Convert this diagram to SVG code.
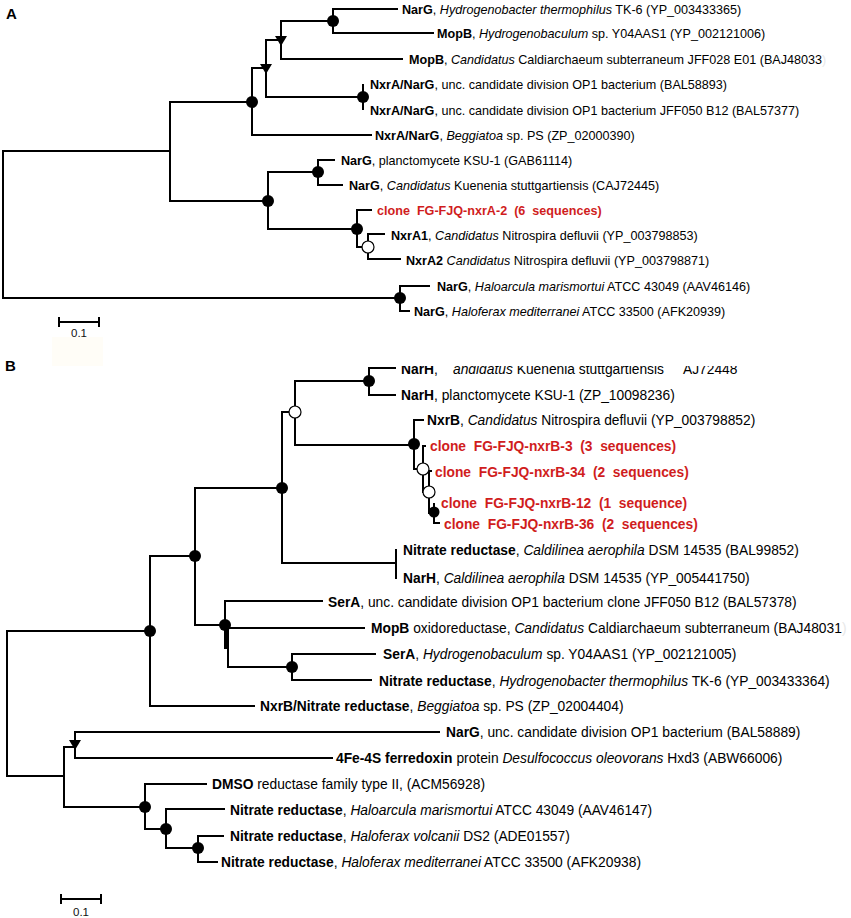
<svg xmlns="http://www.w3.org/2000/svg" width="851" height="918" viewBox="0 0 851 918">
<style>
text{font-family:"Liberation Sans",Arial,sans-serif;fill:#000}
.a{font-size:12.6px}
.bb{font-size:13.8px}
.b{font-weight:bold}
.i{font-style:italic}
.red{fill:#d01d1d;font-weight:bold}
.ghost{fill:#e8e8e8}
.br{fill:none;stroke:#000;stroke-width:2}
.dot{fill:#000}
.open{fill:#fff;stroke:#000;stroke-width:1.2}
.tri{fill:#000}
.title{font-size:15px;font-weight:bold}
.sc{font-size:11.5px;text-anchor:middle;fill:#111}
</style>
<rect width="851" height="918" fill="#fff"/>
<rect x="52" y="337" width="51" height="29" fill="#fffdf7"/>
<text class="title" x="6" y="19">A</text>
<text class="title" x="5" y="371">B</text>

<g id="connectors">
<path class="br" d="M170,151 H3 V298 H400"/>
<path class="br" d="M252,102 H170 V201 H268"/>
<path class="br" d="M266,68 H252 V135 H372"/>
<path class="br" d="M281,40 H266 V97 H363"/>
<path class="br" d="M333,21 H281 V59 H403"/>
<path class="br" d="M398,9 H333 V33 H434"/>
<path class="br" d="M363,84 V110"/>
<path class="br" d="M318,172 H268 V229 H357"/>
<path class="br" d="M335,160 H318 V185 H343"/>
<path class="br" d="M372,210 H357 V247 H368"/>
<path class="br" d="M385,234 H368 V259 H401"/>
<path class="br" d="M430,286 H400 V311 H410"/>
<path class="br" d="M59,322 H99 M59,317 V327 M99,317 V327"/>

<path class="br" d="M150,631 H7 V776 H64"/>
<path class="br" d="M195,556 H150 V706 H255"/>
<path class="br" d="M282,488 H195 V625 H225"/>
<path class="br" d="M295,412 H282 V563 H395"/>
<path class="br" d="M369,381 H295 V445 H414"/>
<path class="br" d="M396,368 H369 V395 H396"/>
<path class="br" d="M424,420 H414 V469 H423"/>
<path class="br" d="M426,446 H423 V492 H429"/>
<path class="br" d="M432,471 H429 V513 H434"/>
<path class="br" d="M434,503 V523 H440"/>
<path class="br" d="M396,549 V579"/>
<path class="br" d="M323,601 H225 V648 H228"/>
<path class="br" d="M365,628 H228 V667 H292"/>
<path class="br" d="M376,654 H292 V680 H372"/>
<path class="br" d="M75,747 H64 V807 H145"/>
<path class="br" d="M440,732 H75 V758 H333"/>
<path class="br" d="M207,784 H145 V829 H166"/>
<path class="br" d="M225,809 H166 V848 H198"/>
<path class="br" d="M224,836 H198 V862 H218"/>
<path class="br" d="M61,899 H101 M61,894 V904 M101,894 V904"/>
</g>

<g id="nodes-A">
<circle class="dot" cx="252" cy="102" r="6"/>
<circle class="dot" cx="333" cy="21" r="6"/>
<circle class="dot" cx="363" cy="97" r="6"/>
<circle class="dot" cx="268" cy="201" r="6"/>
<circle class="dot" cx="318" cy="172" r="6"/>
<circle class="dot" cx="357" cy="229" r="6"/>
<circle class="dot" cx="400" cy="298" r="6"/>
<circle class="open" cx="368" cy="247" r="6"/>
<polygon class="tri" points="260,64 272,64 266,74"/>
<polygon class="tri" points="275,36 287,36 281,46"/>
</g>

<g id="nodes-B">
<circle class="dot" cx="150" cy="631" r="6"/>
<circle class="dot" cx="195" cy="556" r="6"/>
<circle class="dot" cx="282" cy="488" r="6"/>
<circle class="dot" cx="369" cy="381" r="6"/>
<circle class="dot" cx="414" cy="444" r="6"/>
<circle class="dot" cx="225" cy="625" r="6"/>
<circle class="dot" cx="292" cy="667" r="6"/>
<circle class="dot" cx="145" cy="807" r="6"/>
<circle class="dot" cx="166" cy="829" r="6"/>
<circle class="dot" cx="198" cy="848" r="6"/>
<circle class="dot" cx="434" cy="512" r="5.5"/>
<circle class="open" cx="295" cy="412" r="6"/>
<circle class="open" cx="423" cy="469" r="6"/>
<circle class="open" cx="429" cy="492" r="6"/>
<polygon class="tri" points="69,740 81,740 75,750"/>
<rect x="225" y="627" width="4" height="21" fill="#000"/>
</g>

<text class="sc" x="79" y="337">0.1</text>
<text class="sc" x="81" y="916">0.1</text>

<g id="leaf-A1"><text class="a" x="402" y="14"><tspan class="b">NarG</tspan>, <tspan class="i">Hydrogenobacter thermophilus</tspan> TK-6 (YP_003433365)</text></g>
<g id="leaf-A2"><text class="a" x="437" y="38"><tspan class="b">MopB</tspan>, <tspan class="i">Hydrogenobaculum</tspan> sp. Y04AAS1 (YP_002121006)</text></g>
<g id="leaf-A3"><text class="a" x="409" y="64"><tspan class="b">MopB</tspan>, <tspan class="i">Candidatus</tspan> Caldiarchaeum subterraneum JFF028 E01 (BAJ48033<tspan class="ghost">)</tspan></text></g>
<g id="leaf-A4"><text class="a" x="370" y="89"><tspan class="b">NxrA/NarG</tspan>, unc. candidate division OP1 bacterium (BAL58893)</text></g>
<g id="leaf-A5"><text class="a" x="370" y="115"><tspan class="b">NxrA/NarG</tspan>, unc. candidate division OP1 bacterium JFF050 B12 (BAL57377)</text></g>
<g id="leaf-A6"><text class="a" x="375" y="140"><tspan class="b">NxrA/NarG</tspan>, <tspan class="i">Beggiatoa</tspan> sp. PS (ZP_02000390)</text></g>
<g id="leaf-A7"><text class="a" x="341" y="165"><tspan class="b">NarG</tspan>, planctomycete KSU-1 (GAB61114)</text></g>
<g id="leaf-A8"><text class="a" x="349" y="190"><tspan class="b">NarG</tspan>, <tspan class="i">Candidatus</tspan> Kuenenia stuttgartiensis (CAJ72445)</text></g>
<g id="leaf-A9"><text class="a red" x="377" y="215" xml:space="preserve">clone  FG-FJQ-nxrA-2  (6  sequences)</text></g>
<g id="leaf-A10"><text class="a" x="391" y="239.5"><tspan class="b">NxrA1</tspan>, <tspan class="i">Candidatus</tspan> Nitrospira defluvii (YP_003798853)</text></g>
<g id="leaf-A11"><text class="a" x="406" y="264.5"><tspan class="b">NxrA2</tspan> <tspan class="i">Candidatus</tspan> Nitrospira defluvii (YP_003798871)</text></g>
<g id="leaf-A12"><text class="a" x="437" y="291"><tspan class="b">NarG</tspan>, <tspan class="i">Haloarcula marismortui</tspan> ATCC 43049 (AAV46146)</text></g>
<g id="leaf-A13"><text class="a" x="414" y="316"><tspan class="b">NarG</tspan>, <tspan class="i">Haloferax mediterranei</tspan> ATCC 33500 (AFK20939)</text></g>

<g id="leaf-B1"><text class="bb" x="401" y="374"><tspan class="b">NarH</tspan>,<tspan class="i" x="453">andidatus</tspan> Kuenenia stuttgartiensis<tspan x="683">AJ72448</tspan></text><rect x="396" y="355" width="370" height="11" fill="#fff"/></g>
<g id="leaf-B2"><text class="bb" x="401" y="400"><tspan class="b">NarH</tspan>, planctomycete KSU-1 (ZP_10098236)</text></g>
<g id="leaf-B3"><text class="bb" x="427" y="425"><tspan class="b">NxrB</tspan>, <tspan class="i">Candidatus</tspan> Nitrospira defluvii (YP_003798852)</text></g>
<g id="leaf-B4"><text class="bb red" x="430" y="451" xml:space="preserve">clone  FG-FJQ-nxrB-3  (3  sequences)</text></g>
<g id="leaf-B5"><text class="bb red" x="435" y="477" xml:space="preserve">clone  FG-FJQ-nxrB-34  (2  sequences)</text></g>
<g id="leaf-B6"><text class="bb red" x="441" y="508" xml:space="preserve">clone  FG-FJQ-nxrB-12  (1  sequence)</text></g>
<g id="leaf-B7"><text class="bb red" x="444" y="529" xml:space="preserve">clone  FG-FJQ-nxrB-36  (2  sequences)</text></g>
<g id="leaf-B8"><text class="bb" x="403" y="555"><tspan class="b">Nitrate reductase</tspan>, <tspan class="i">Caldilinea aerophila</tspan> DSM 14535 (BAL99852)</text></g>
<g id="leaf-B9"><text class="bb" x="403" y="583"><tspan class="b">NarH</tspan>, <tspan class="i">Caldilinea aerophila</tspan> DSM 14535 (YP_005441750)</text></g>
<g id="leaf-B10"><text class="bb" x="328" y="607"><tspan class="b">SerA</tspan>, unc. candidate division OP1 bacterium clone JFF050 B12 (BAL57378)</text></g>
<g id="leaf-B11"><text class="bb" x="371" y="633"><tspan class="b">MopB</tspan> oxidoreductase, <tspan class="i">Candidatus</tspan> Caldiarchaeum subterraneum (BAJ48031<tspan class="ghost">)</tspan></text></g>
<g id="leaf-B12"><text class="bb" x="383" y="659"><tspan class="b">SerA</tspan>, <tspan class="i">Hydrogenobaculum</tspan> sp. Y04AAS1 (YP_002121005)</text></g>
<g id="leaf-B13"><text class="bb" x="379" y="686"><tspan class="b">Nitrate reductase</tspan>, <tspan class="i">Hydrogenobacter thermophilus</tspan> TK-6 (YP_003433364)</text></g>
<g id="leaf-B14"><text class="bb" x="260" y="711"><tspan class="b">NxrB/Nitrate reductase</tspan>, <tspan class="i">Beggiatoa</tspan> sp. PS (ZP_02004404)</text></g>
<g id="leaf-B15"><text class="bb" x="446" y="737"><tspan class="b">NarG</tspan>, unc. candidate division OP1 bacterium (BAL58889)</text></g>
<g id="leaf-B16"><text class="bb" x="336" y="763"><tspan class="b">4Fe-4S ferredoxin</tspan> protein <tspan class="i">Desulfococcus oleovorans</tspan> Hxd3 (ABW66006)</text></g>
<g id="leaf-B17"><text class="bb" x="212" y="789"><tspan class="b">DMSO</tspan> reductase family type II, (ACM56928)</text></g>
<g id="leaf-B18"><text class="bb" x="230" y="815"><tspan class="b">Nitrate reductase</tspan>, <tspan class="i">Haloarcula marismortui</tspan> ATCC 43049 (AAV46147)</text></g>
<g id="leaf-B19"><text class="bb" x="230" y="841"><tspan class="b">Nitrate reductase</tspan>, <tspan class="i">Haloferax volcanii</tspan> DS2 (ADE01557)</text></g>
<g id="leaf-B20"><text class="bb" x="221" y="867"><tspan class="b">Nitrate reductase</tspan>, <tspan class="i">Haloferax mediterranei</tspan> ATCC 33500 (AFK20938)</text></g>
</svg>
